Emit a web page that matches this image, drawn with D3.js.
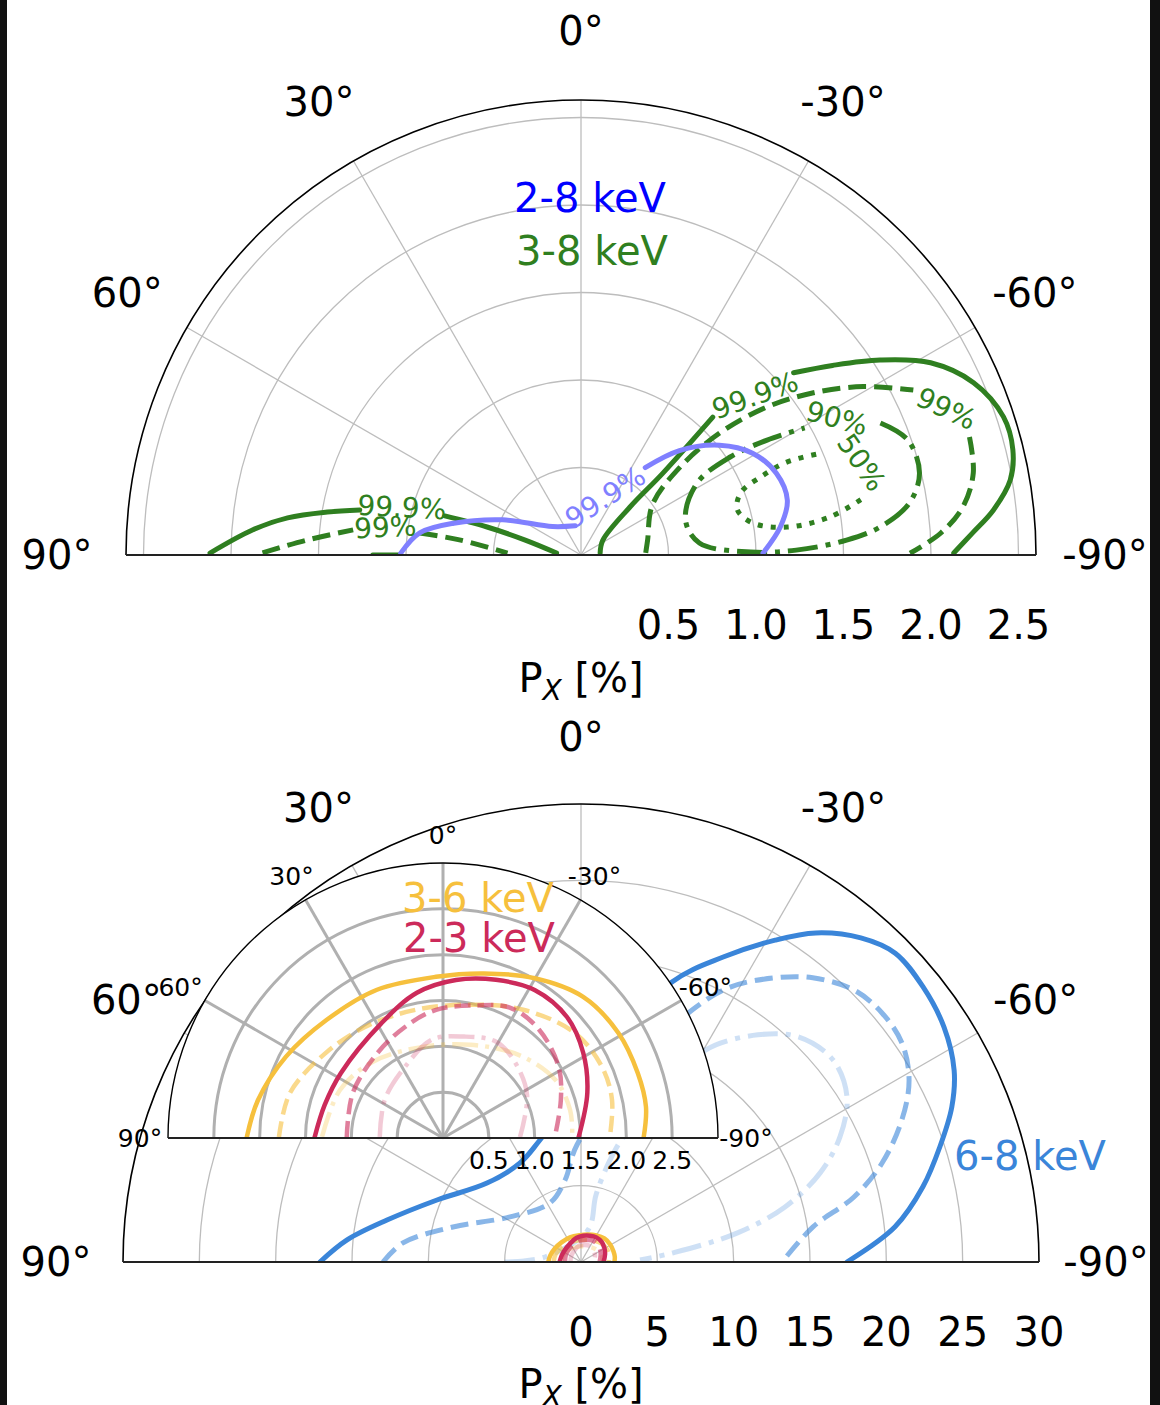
<!DOCTYPE html>
<html><head><meta charset="utf-8">
<script src="https://cdn.jsdelivr.net/npm/d3@7"></script>
<style>
body{margin:0;background:#fff;}
svg{display:block;font-family:"DejaVu Sans",sans-serif;}
</style></head><body>
<svg id="chart" width="1160" height="1405"></svg>
<script>
// ---------------- DATA (angle in degrees, P_X in %) ----------------
const angleTicks = [90, 60, 30, 0, -30, -60, -90];
const angleTickLabels = ["90°", "60°", "30°", "0°", "-30°", "-60°", "-90°"];
const spokeAngles = [60, 30, 0, -30, -60];

const topRTicks = [0.5, 1.0, 1.5, 2.0, 2.5];
const topRTickLabels = ["0.5", "1.0", "1.5", "2.0", "2.5"];
const botRTicks = [0, 5, 10, 15, 20, 25, 30];
const botRTickLabels = ["0", "5", "10", "15", "20", "25", "30"];
const insetRTicks = [0.5, 1.0, 1.5, 2.0, 2.5];
const insetRTickLabels = ["0.5", "1.0", "1.5", "2.0", "2.5"];

// top panel: 3-8 keV contours (segments split where inline labels sit)
const green999Right = [
  [[-84, 0.11], [-56, 0.15], [-45.6, 0.39], [-45, 0.66], [-43.7, 1.09]],
  [[-49.4, 1.60], [-53, 1.80], [-56.9, 2.04], [-61.2, 2.28], [-66.3, 2.45], [-71.9, 2.54], [-76.3, 2.54], [-80.1, 2.49], [-83.8, 2.37], [-86.8, 2.24], [-89.7, 2.13]]
];
const green99Right = [
  [[-88.2, 0.37], [-77.4, 0.39], [-54.8, 0.50], [-48.4, 0.76], [-48.7, 1.06], [-51.5, 1.36], [-55.1, 1.62], [-59.2, 1.88], [-63.6, 2.12]],
  [[-73.1, 2.32], [-78.2, 2.29], [-82.8, 2.20], [-86.5, 2.06], [-89.7, 1.88]]
];
const green90Right = [
  [[-66.2, 1.87], [-70.6, 1.98], [-76.4, 1.99], [-81, 1.90], [-84.6, 1.72], [-86.8, 1.52], [-88.7, 1.23], [-89, 0.97], [-84.2, 0.68], [-71.4, 0.63], [-58.2, 0.78], [-56.7, 1.02], [-58.3, 1.25], [-60.4, 1.47]]
];
const green50Right = [
  [[-78.8, 1.63], [-81.3, 1.44], [-82.3, 1.19], [-79.5, 1.00], [-73.9, 0.93], [-68.7, 0.98], [-66.5, 1.12], [-65.7, 1.29], [-67.1, 1.50]]
];
const green999Left = [
  [[89.7, 2.12], [85.6, 1.88], [82.8, 1.69], [80.4, 1.47], [78.5, 1.29]],
  [[74, 0.81], [73.4, 0.56], [75, 0.33], [85.2, 0.14]],
  [[90, 1.19], [90, 1.03]]
];
const green99Left = [
  [[89.6, 1.82], [86.9, 1.57], [83.7, 1.31]],
  [[82.2, 0.93], [82.9, 0.70], [88.5, 0.42]]
];
// top panel: 2-8 keV contour
const blue999 = [
  [[89.4, 1.03], [82.2, 0.93], [76, 0.75], [65.8, 0.49], [45, 0.23], [11.3, 0.17]],
  [[-36.3, 0.62], [-43.3, 0.82], [-51.6, 1.01], [-59.3, 1.14], [-67.3, 1.21], [-75.1, 1.22], [-82, 1.15], [-89.4, 1.04]]
];
const topContourLabelText = ["99.9%", "99%", "90%", "50%", "99.9%", "99.9%", "99%"];
const topContourLabelAngle = [-47.4, -68.1, -61.8, -71.7, -22.5, 75, 81.8];
const topContourLabelR = [1.35, 2.25, 1.66, 1.69, 0.36, 1.06, 1.13];

// bottom panel: 6-8 keV contours
const blue68Solid = [[90, 17.10], [84.6, 15.39], [77.8, 13.0], [66.7, 10.27], [50, 8.04], [31.6, 7.62], [18.6, 8.43], [-5.4, 13.29], [-18, 19.28], [-25, 22.04], [-31.1, 24.62], [-35.5, 26.48], [-40.8, 28.05], [-45.5, 28.86], [-51.2, 28.75], [-57.1, 28.32], [-62.8, 27.48], [-67.3, 26.33], [-72.2, 24.69], [-77.6, 22.93], [-83.6, 20.70], [-90, 17.42]];
const blue68Dashed = [[90, 12.97], [83.9, 11.73], [74.7, 8.69], [57.6, 5.51], [27.7, 4.37], [11, 5.47], [2, 7.67], [-16.3, 13.78], [-23.8, 18.04], [-28.5, 20.49], [-34.3, 22.53], [-39.2, 24.02], [-45.1, 25.24], [-50.4, 25.59], [-55.7, 25.45], [-61, 24.57], [-66.1, 22.99], [-71.8, 20.76], [-76.6, 18.38], [-81.4, 15.37], [-90, 13.17]];
const blue68DashDot = [[90, 4.98], [82.1, 2.38], [-12.3, 2.15], [-12.6, 4.5], [-15.9, 6.95], [-19.1, 8.8], [-28.5, 13.57], [-30.5, 16.12], [-37.9, 18.86], [-44.1, 20.52], [-51.3, 21.16], [-58.2, 20.5], [-64.2, 18.84], [-69.6, 16.7], [-74.9, 13.84], [-79.5, 10.39], [-84.4, 5.99], [-88.1, 3.87]];

// bottom panel (and inset): 3-6 keV and 2-3 keV contours
const yel36Solid = [[89.7, 2.14], [78.4, 2.06], [62.7, 1.93], [44.8, 1.81], [24, 1.77], [2.5, 1.76], [-14, 1.85], [-29.9, 2.01], [-44.8, 2.17], [-59, 2.23], [-71.6, 2.24], [-81.3, 2.24], [-89.7, 2.19]];
const yel36Dashed = [[89.7, 1.79], [73.6, 1.74], [54, 1.58], [35.1, 1.48], [13.2, 1.43], [-10.6, 1.48], [-32, 1.65], [-51.5, 1.84], [-65.9, 1.90], [-77.3, 1.89], [-89.7, 1.82]];
const yel36DashDot = [[89.5, 1.32], [65, 1.24], [42.6, 1.13], [14.2, 1.02], [-16.2, 1.06], [-42.9, 1.23], [-62.6, 1.38], [-77.6, 1.42], [-89.6, 1.41]];
const red23Solid = [[89.6, 1.40], [74.4, 1.34], [57.5, 1.32], [28.3, 1.42], [10.2, 1.61], [-4.7, 1.73], [-18.5, 1.82], [-31.9, 1.90], [-45.7, 1.89], [-58.7, 1.79], [-72.6, 1.65], [-89.6, 1.48]];
const red23Dashed = [[89.4, 1.05], [63.4, 1.10], [37.8, 1.17], [18.9, 1.28], [3.1, 1.40], [-13.9, 1.49], [-27.6, 1.60], [-41.6, 1.58], [-58.5, 1.48], [-72.2, 1.35], [-89.5, 1.22]];
const red23DashDot = [[89, 0.69], [56.8, 0.76], [28.2, 0.88], [6.4, 1.08], [-11.7, 1.13], [-28.9, 1.20], [-43.5, 1.14], [-62.9, 1.03], [-89.3, 0.84]];

// ---------------- STYLE ----------------
const GREEN = "#2f7f20", BLUE_TOP = "#0000ff", BLUE_TOP_LINE = "#8080ff";
const BLUE = "#3a85d9", YEL = "#f6c03d", RED = "#cc2a5a";
const DASH = "18,8", DASHDOT = "30,8,5,8", DOT = "5,8";

const svg = d3.select("#chart");
const W = 1160, H = 1405;
svg.append("rect").attr("width", W).attr("height", H).attr("fill", "#fff");
const defs = svg.append("defs");

const rad = t => -t * Math.PI / 180;
function pxy(theta, rp) { const a = rad(theta); return [rp * Math.sin(a), -rp * Math.cos(a)]; }
function semi(R) { return `M${-R},0A${R},${R} 0 0 1 ${R},0Z`; }
function arcOnly(R) { return `M${-R},0A${R},${R} 0 0 1 ${R},0`; }

let clipN = 0;
function polarPanel(o) {
  const g = svg.append("g").attr("transform", `translate(${o.cx},${o.cy})`);
  const r = d3.scaleLinear().domain([0, o.rMax]).range([0, o.R]);
  if (o.bg) g.append("path").attr("d", semi(o.R)).attr("fill", "#fff");
  const grid = g.append("g");
  o.rTicks.filter(v => v > 0 && v < o.rMax).forEach(v => {
    grid.append("path").attr("d", arcOnly(r(v))).attr("fill", "none")
      .attr("stroke", o.gridColor).attr("stroke-width", o.gridWidth);
  });
  spokeAngles.forEach(t => {
    const [x, y] = pxy(t, o.R);
    grid.append("line").attr("x1", 0).attr("y1", 0).attr("x2", x).attr("y2", y)
      .attr("stroke", o.gridColor).attr("stroke-width", o.gridWidth);
  });
  const id = "clip" + (clipN++);
  defs.append("clipPath").attr("id", id).append("path").attr("d", semi(o.R));
  const data = g.append("g").attr("clip-path", `url(#${id})`);
  const frame = g.append("g");
  frame.append("path").attr("d", arcOnly(o.R)).attr("fill", "none").attr("stroke", "#000").attr("stroke-width", o.frameWidth);
  frame.append("line").attr("x1", -o.R).attr("x2", o.R).attr("y1", 0).attr("y2", 0).attr("stroke", "#222").attr("stroke-width", o.frameWidth + 0.6);
  angleTicks.forEach((t, i) => {
    const [x, y] = pxy(t, o.R + o.angOff);
    g.append("text").attr("x", x).attr("y", y).attr("dy", "0.36em").attr("text-anchor", "middle")
      .attr("font-size", o.angFont).attr("fill", "#000").text(angleTickLabels[i]);
  });
  o.rTicks.forEach((v, i) => {
    g.append("text").attr("x", r(v)).attr("y", o.rLabY).attr("dy", "0.36em").attr("text-anchor", "middle")
      .attr("font-size", o.rFont).attr("fill", "#000").text(o.rTickLabels[i]);
  });
  const line = d3.lineRadial().angle(d => rad(d[0])).radius(d => r(d[1])).curve(d3.curveCatmullRom.alpha(0.5));
  function curve(segs, color, width, dash, opacity) {
    segs.forEach(s => {
      data.append("path").attr("d", line(s)).attr("fill", "none").attr("stroke", color)
        .attr("stroke-width", width).attr("stroke-opacity", opacity == null ? 1 : opacity)
        .attr("stroke-dasharray", dash || null).attr("stroke-linejoin", "round")
        .attr("stroke-linecap", dash ? "butt" : "round");
    });
  }
  return { g, r, curve };
}

function xlabel(cx, y) {
  const t = svg.append("text").attr("x", cx).attr("y", y).attr("text-anchor", "middle").attr("font-size", 40).attr("fill", "#000");
  t.append("tspan").text("P");
  t.append("tspan").attr("font-size", 28).attr("font-style", "italic").attr("dy", 8).text("X");
  t.append("tspan").attr("dy", -8).text(" [%]");
}

// ---------------- TOP PANEL ----------------
const topP = polarPanel({ cx: 581, cy: 555, R: 455, rMax: 2.6, rTicks: topRTicks, rTickLabels: topRTickLabels,
  gridColor: "#bdbdbd", gridWidth: 1.3, frameWidth: 1.6, angFont: 40, angOff: 69, rFont: 40, rLabY: 70 });
topP.curve(green999Right, GREEN, 5);
topP.curve(green99Right, GREEN, 5, DASH);
topP.curve(green90Right, GREEN, 5, DASHDOT);
topP.curve(green50Right, GREEN, 5, DOT);
topP.curve(green999Left, GREEN, 5);
topP.curve(green99Left, GREEN, 5, DASH);
topP.curve(blue999, BLUE_TOP_LINE, 5);
const topLabColor = [GREEN, GREEN, GREEN, GREEN, BLUE_TOP_LINE, GREEN, GREEN];
const topLabRot = [-20, 25, 15, 55, -33, 3, -3];
topContourLabelText.forEach((txt, i) => {
  const [x, y] = pxy(topContourLabelAngle[i], topP.r(topContourLabelR[i]));
  topP.g.append("text").attr("transform", `translate(${x},${y}) rotate(${topLabRot[i]})`)
    .attr("dy", "0.36em").attr("text-anchor", "middle").attr("font-size", 28).attr("fill", topLabColor[i]).text(txt);
});
svg.append("text").attr("x", 590).attr("y", 198).attr("dy", "0.36em").attr("text-anchor", "middle").attr("font-size", 40).attr("fill", BLUE_TOP).text("2-8 keV");
svg.append("text").attr("x", 592).attr("y", 251).attr("dy", "0.36em").attr("text-anchor", "middle").attr("font-size", 40).attr("fill", GREEN).text("3-8 keV");
xlabel(581, 692);

// ---------------- BOTTOM PANEL ----------------
const botP = polarPanel({ cx: 581, cy: 1262, R: 458, rMax: 30, rTicks: botRTicks, rTickLabels: botRTickLabels,
  gridColor: "#bdbdbd", gridWidth: 1.3, frameWidth: 1.6, angFont: 40, angOff: 67, rFont: 40, rLabY: 70 });
botP.curve([blue68DashDot], BLUE, 5, DASHDOT, 0.25);
botP.curve([blue68Dashed], BLUE, 5, DASH, 0.6);
botP.curve([blue68Solid], BLUE, 5);
botP.curve([yel36DashDot], YEL, 4.5, DASHDOT, 0.3);
botP.curve([red23DashDot], RED, 4.5, DASHDOT, 0.25);
botP.curve([yel36Dashed], YEL, 4.5, DASH, 0.6);
botP.curve([red23Dashed], RED, 4.5, DASH, 0.6);
botP.curve([yel36Solid], YEL, 4.5);
botP.curve([red23Solid], RED, 4.5);
svg.append("text").attr("x", 1030).attr("y", 1156).attr("dy", "0.36em").attr("text-anchor", "middle").attr("font-size", 40).attr("fill", BLUE).text("6-8 keV");
xlabel(581, 1398);

// ---------------- INSET ----------------
const insP = polarPanel({ cx: 443, cy: 1138, R: 275, rMax: 3, rTicks: insetRTicks, rTickLabels: insetRTickLabels, bg: true,
  gridColor: "#b0b0b0", gridWidth: 3, frameWidth: 1.4, angFont: 25, angOff: 28, rFont: 25, rLabY: 22 });
insP.curve([yel36DashDot], YEL, 4.5, "26,7,4,7", 0.3);
insP.curve([red23DashDot], RED, 4.5, "26,7,4,7", 0.25);
insP.curve([yel36Dashed], YEL, 4.5, "16,7", 0.6);
insP.curve([red23Dashed], RED, 4.5, "16,7", 0.6);
insP.curve([yel36Solid], YEL, 4.5);
insP.curve([red23Solid], RED, 4.5);
svg.append("text").attr("x", 478).attr("y", 898).attr("dy", "0.36em").attr("text-anchor", "middle").attr("font-size", 40).attr("fill", YEL).text("3-6 keV");
svg.append("text").attr("x", 479).attr("y", 938).attr("dy", "0.36em").attr("text-anchor", "middle").attr("font-size", 40).attr("fill", RED).text("2-3 keV");

svg.append("rect").attr("x", 0).attr("y", 0).attr("width", 7).attr("height", H).attr("fill", "#111");
svg.append("rect").attr("x", 1150).attr("y", 0).attr("width", 10).attr("height", H).attr("fill", "#111");
</script>
</body></html>
